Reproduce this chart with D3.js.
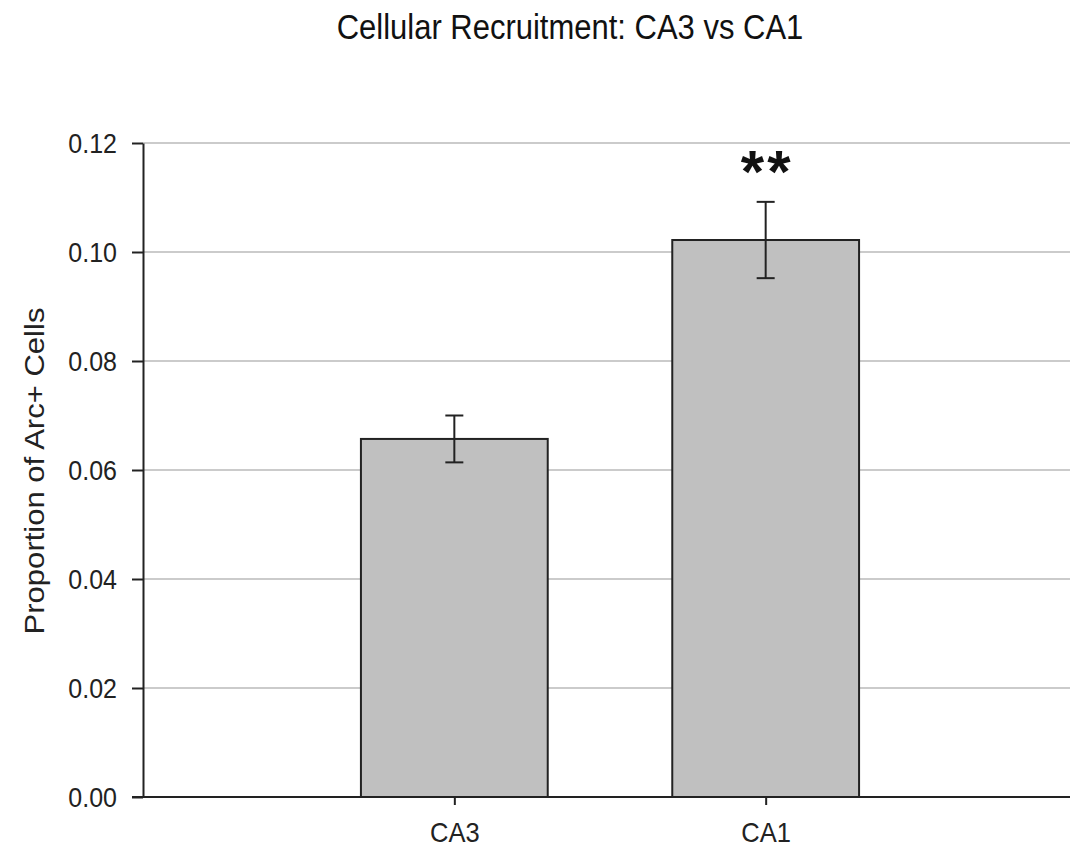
<!DOCTYPE html>
<html>
<head>
<meta charset="utf-8">
<script src="https://cdn.jsdelivr.net/npm/d3@7"></script>
<style>
	html, body { margin: 0; padding: 0; background: #fff; }
	#canvas { width: 1070px; height: 851px; }
	text { font-family: Arial, 'Liberation Sans', sans-serif; fill: #222; }
</style>
</head>
<body>
<div id="canvas"></div>
<script>
const categories = ['CA3', 'CA1'];
const means = [0.0657, 0.1022];
const errors = [0.0043, 0.007];
const yTicks = [0, 0.02, 0.04, 0.06, 0.08, 0.1, 0.12];
const signif = ['', '**'];

const width = 1070;
const height = 851;
const margins = { top: 143, bottom: 54, left: 143, right: -7 };
const stretch = 1.12; // reference text is a bit tall

const svg = d3.select('#canvas').append('svg')
	.attr('width', width)
	.attr('height', height);

const x = d3.scalePoint()
	.domain(categories)
	.range([margins.left, width - margins.right])
	.padding(1);

const y = d3.scaleLinear()
	.domain([0, 0.12])
	.range([height - margins.bottom, margins.top]);

const barW = x.step() * 0.6;

// gridlines
svg.append('g')
	.selectAll('line')
	.data(yTicks.filter(d => d > 0))
	.join('line')
	.attr('x1', margins.left)
	.attr('x2', width)
	.attr('y1', d => y(d))
	.attr('y2', d => y(d))
	.attr('stroke', '#cbcbcb')
	.attr('stroke-width', 2);

// bars
svg.append('g')
	.selectAll('rect')
	.data(categories)
	.join('rect')
	.attr('x', d => x(d) - barW / 2)
	.attr('width', barW)
	.attr('y', (d, i) => y(means[i]))
	.attr('height', (d, i) => y(0) - y(means[i]))
	.attr('fill', '#c0c0c0')
	.attr('stroke', '#222')
	.attr('stroke-width', 2);

// error bars
const err = svg.append('g').attr('stroke', '#222').attr('stroke-width', 2);
categories.forEach((c, i) => {
	const cx = x(c);
	const lo = y(means[i] - errors[i]);
	const hi = y(means[i] + errors[i]);
	err.append('line').attr('x1', cx).attr('x2', cx).attr('y1', lo).attr('y2', hi);
	err.append('line').attr('x1', cx - 9).attr('x2', cx + 9).attr('y1', lo).attr('y2', lo);
	err.append('line').attr('x1', cx - 9).attr('x2', cx + 9).attr('y1', hi).attr('y2', hi);
});

// y axis
const yAxis = svg.append('g')
	.attr('transform', `translate(${margins.left},0)`)
	.call(d3.axisLeft(y).tickValues(yTicks).tickFormat(d3.format('.2f')).tickSize(11).tickSizeOuter(0));
yAxis.select('.domain').attr('stroke', '#222').attr('stroke-width', 2);
yAxis.selectAll('.tick line').attr('stroke', '#222').attr('stroke-width', 2);
yAxis.selectAll('.tick text')
	.attr('x', 0).attr('dy', null)
	.attr('transform', `translate(-26,9) scale(1,${stretch})`)
	.style('font-size', '25px')
	.style('fill', '#222');

// x axis
const xAxis = svg.append('g')
	.attr('transform', `translate(0,${y(0)})`)
	.call(d3.axisBottom(x).tickSize(8).tickSizeOuter(0));
xAxis.select('.domain').attr('stroke', '#222').attr('stroke-width', 2)
	.attr('d', `M${margins.left - 11},0H${width}`);
xAxis.selectAll('.tick line').attr('stroke', '#222').attr('stroke-width', 2);
xAxis.selectAll('.tick text')
	.attr('y', 0).attr('dy', null)
	.attr('transform', `translate(0,45) scale(1,${stretch})`)
	.style('font-size', '25.5px')
	.style('fill', '#222');

// significance marks
svg.append('g')
	.selectAll('text')
	.data(categories)
	.join('text')
	.attr('x', d => x(d) + 1.5)
	.attr('y', (d, i) => y(means[i] + errors[i]) - 10)
	.attr('text-anchor', 'middle')
	.style('font-size', '60px')
	.style('font-weight', 'bold')
	.style('letter-spacing', '3px')
	.style('fill', '#111')
	.text((d, i) => signif[i]);

// title
svg.append('text')
	.attr('transform', `translate(570,39) scale(1,1.15)`)
	.attr('text-anchor', 'middle')
	.style('font-size', '31px')
	.style('fill', '#111')
	.text('Cellular Recruitment: CA3 vs CA1');

// y label
svg.append('text')
	.attr('transform', `translate(44,471) scale(1,1.15) rotate(-90)`)
	.attr('text-anchor', 'middle')
	.style('font-size', '27px')
	.text('Proportion of Arc+ Cells');
</script>
</body>
</html>
